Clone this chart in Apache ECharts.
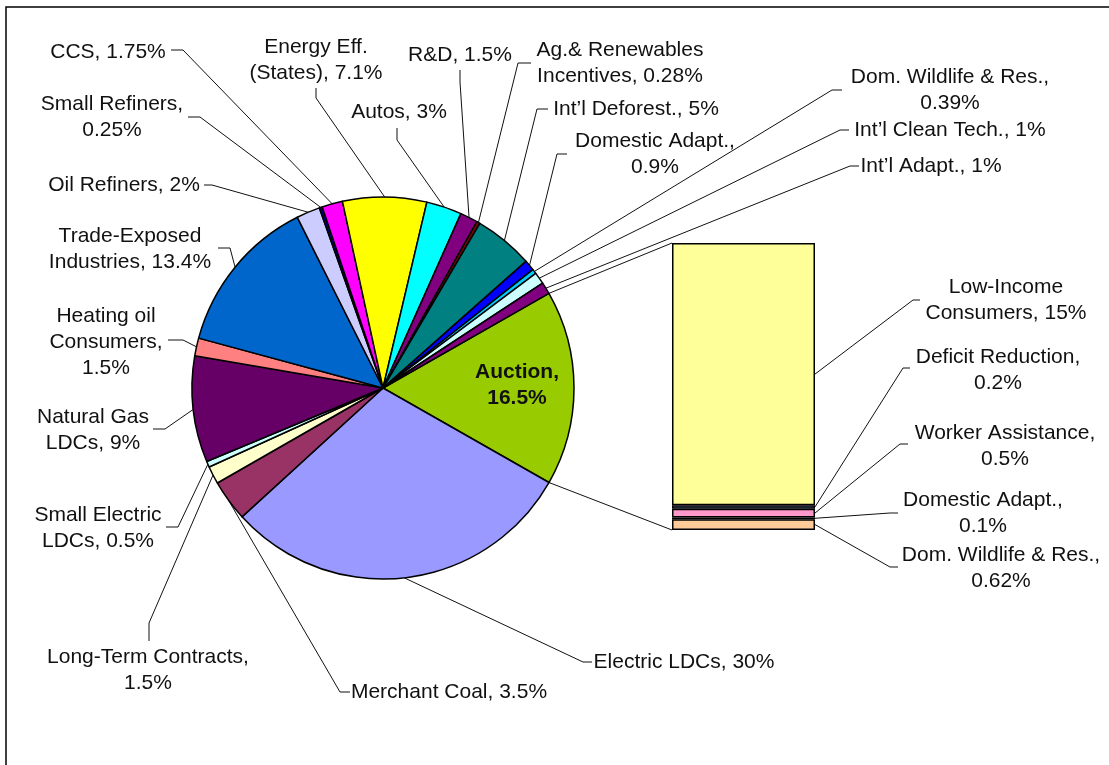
<!DOCTYPE html>
<html>
<head>
<meta charset="utf-8">
<script src="https://cdn.jsdelivr.net/npm/echarts@6/dist/echarts.min.js"></script>
<style>
html,body{margin:0;padding:0;background:#fff;}
#main{width:1109px;height:765px;}
</style>
</head>
<body>
<div id="main"></div>
<script>
// ---- DATA ----
const pieNames = ['Auction', 'Electric LDCs', 'Merchant Coal', 'Long-Term Contracts', 'Small Electric\nLDCs',
  'Natural Gas\nLDCs', 'Heating oil\nConsumers', 'Trade-Exposed\nIndustries', 'Oil Refiners', 'Small Refiners',
  'CCS', 'Energy Eff.\n(States)', 'Autos', 'R&D', 'Ag.& Renewables\nIncentives', 'Int\u2019l Deforest.',
  'Domestic Adapt.', 'Dom. Wildlife & Res.', 'Int\u2019l Clean Tech.', 'Int\u2019l Adapt.'];
const pieValues = [16.5, 30, 3.5, 1.5, 0.5, 9, 1.5, 13.4, 2, 0.25, 1.75, 7.1, 3, 1.5, 0.28, 5, 0.9, 0.39, 1, 1];
const pieWrapValue = ['Auction', 'Long-Term Contracts', 'Heating oil\nConsumers', 'Small Refiners', 'Domestic Adapt.', 'Dom. Wildlife & Res.'];

const barNames = ['Dom. Wildlife & Res.', 'Domestic Adapt.', 'Worker Assistance', 'Deficit Reduction', 'Low-Income\nConsumers'];
const barValues = [0.62, 0.1, 0.5, 0.2, 15];
const barWrapValue = ['Dom. Wildlife & Res.', 'Domestic Adapt.', 'Worker Assistance', 'Deficit Reduction'];

// ---- STYLE / LAYOUT ----
const pieColors = ['#99CC00', '#9999FF', '#993366', '#FFFFCC', '#CCFFFF', '#660066', '#FF8080', '#0066CC',
  '#CCCCFF', '#000080', '#FF00FF', '#FFFF00', '#00FFFF', '#800080', '#800000', '#008080', '#0000FF',
  '#00CCFF', '#CCFFFF', '#800080'];
const barColors = ['#FFCC99', '#CC99FF', '#FF99CC', '#6688BB', '#FFFF99'];
const FONT = '"Liberation Sans", Arial, sans-serif';
const FS = 21, LH = 26;
const PIE_C = [383, 388], PIE_R = 191, START = 29.7;
const GRID = {left: 672, top: 243, width: 143, height: 287};

const pieLabelPos = [
  {x: 517, y: 385},
  {x: 684, y: 662, line: [[583, 662], [592, 662]]},
  {x: 449, y: 692, line: [[340, 692], [350, 692]]},
  {x: 148, y: 670, line: [[149, 623], [149, 641]]},
  {x: 98, y: 528, line: [[178, 527], [166, 527]]},
  {x: 93, y: 430, line: [[165, 429], [153, 429]]},
  {x: 106, y: 342, line: [[183, 340], [168, 340]]},
  {x: 130, y: 249, line: [[230, 248], [218, 248]]},
  {x: 124, y: 185, line: [[212, 185], [204, 185]]},
  {x: 112, y: 117, line: [[200, 117], [188, 117]]},
  {x: 108, y: 52, line: [[183, 50], [171, 50]]},
  {x: 316, y: 60, line: [[316, 98], [316, 88]]},
  {x: 399, y: 112, line: [[397, 140], [397, 128]]},
  {x: 460, y: 55, line: [[460, 82], [460, 70]]},
  {x: 620, y: 63, line: [[518, 63], [531, 63]]},
  {x: 636, y: 109, line: [[537, 109], [548, 109]]},
  {x: 655, y: 154, line: [[557, 154], [567, 154]]},
  {x: 950, y: 90, line: [[832, 90], [842, 90]]},
  {x: 950, y: 130, line: [[840, 130], [849, 130]]},
  {x: 931, y: 166, line: [[850, 166], [859, 166]]}
];
const barLabelPos = [
  {x: 1001, y: 568, line: [[890, 567], [898, 567]]},
  {x: 983, y: 513, line: [[890, 513], [898, 513]]},
  {x: 1005, y: 446, line: [[900, 444], [908, 444]]},
  {x: 998, y: 370, line: [[903, 368], [910, 368]]},
  {x: 1006, y: 300, line: [[913, 300], [920, 300]]}
];

function fmt(name, value, wrapList) {
  return name + ',' + (wrapList.indexOf(name) >= 0 ? '\n' : ' ') + value + '%';
}

const chart = echarts.init(document.getElementById('main'), null, {renderer: 'canvas'});

const pieData = pieNames.map(function (n, i) {
  const d = {name: n, value: pieValues[i], itemStyle: {color: pieColors[i]}};
  if (i === 0) {
    d.label = {position: 'inside', fontWeight: 'bold'};
    d.labelLine = {show: false};
  }
  return d;
});

const total = pieValues.reduce(function (a, b) { return a + b; }, 0);
function arcPoint(angleDeg) {
  const a = angleDeg * Math.PI / 180;
  return [PIE_C[0] + PIE_R * Math.cos(a), PIE_C[1] - PIE_R * Math.sin(a)];
}
function midAngle(i) {
  let cum = 0;
  for (let k = 0; k < i; k++) cum += pieValues[k];
  return START - (cum + pieValues[i] / 2) / total * 360;
}

const barSum = barValues.reduce(function (a, b) { return a + b; }, 0);

const series = [{
  type: 'pie',
  center: PIE_C,
  radius: PIE_R,
  startAngle: START,
  clockwise: true,
  avoidLabelOverlap: false,
  animation: false,
  data: pieData,
  itemStyle: {borderColor: '#000', borderWidth: 1.5},
  label: {
    show: true, position: 'outside', alignTo: 'none',
    fontSize: FS, lineHeight: LH, fontFamily: FONT, color: '#111',
    formatter: function (p) { return fmt(p.name, p.value, pieWrapValue); }
  },
  labelLine: {show: true, length: 5, length2: 5, lineStyle: {color: '#111', width: 1}},
  labelLayout: function (params) {
    const L = pieLabelPos[params.dataIndex];
    const res = {x: L.x, y: L.y, align: 'center', verticalAlign: 'middle'};
    if (L.line) {
      const p0 = arcPoint(midAngle(params.dataIndex));
      res.labelLinePoints = [p0, L.line[0], L.line[1]];
    }
    return res;
  },
  emphasis: {disabled: true}
}];

barNames.forEach(function (n, i) {
  series.push({
    type: 'bar',
    name: n,
    stack: 'other',
    barWidth: '100%',
    xAxisIndex: 0, yAxisIndex: 0,
    animation: false,
    data: [barValues[i]],
    itemStyle: {color: barColors[i], borderColor: '#000', borderWidth: 1.5},
    emphasis: {disabled: true}
  });
});

chart.setOption({
  backgroundColor: '#fff',
  animation: false,
  grid: {left: GRID.left, top: GRID.top, width: GRID.width, height: GRID.height, containLabel: false},
  xAxis: {type: 'category', data: ['Auction'], show: false, boundaryGap: true},
  yAxis: {type: 'value', min: 0, max: barSum, show: false, splitLine: {show: false}},
  series: series
});

// Leader lines & labels of the bar, connector lines, frame
const graphics = [];
graphics.push({type: 'rect', shape: {x: 6, y: 7, width: 1300, height: 900},
  style: {fill: 'none', stroke: '#000', lineWidth: 1.5}, silent: true, z: -1});
let cum = 0;
const barRight = GRID.left + GRID.width;
barValues.forEach(function (v, i) {
  const mid = chart.convertToPixel({xAxisIndex: 0, yAxisIndex: 0}, [0, cum + v / 2]);
  cum += v;
  const L = barLabelPos[i];
  graphics.push({type: 'polyline', silent: true,
    shape: {points: [[barRight, mid[1]], L.line[0], L.line[1]]},
    style: {stroke: '#111', lineWidth: 1, fill: null}});
  graphics.push({type: 'text', silent: true, x: L.x, y: L.y,
    style: {text: fmt(barNames[i], v, barWrapValue), align: 'center', verticalAlign: 'middle',
      fontSize: FS, lineHeight: LH, fontFamily: FONT, fill: '#111'}});
});
// connector lines between pie "Auction" slice and the bar
const barTop = chart.convertToPixel({xAxisIndex: 0, yAxisIndex: 0}, [0, barSum]);
const barBottom = chart.convertToPixel({xAxisIndex: 0, yAxisIndex: 0}, [0, 0]);
const aStart = arcPoint(START);
const aEnd = arcPoint(START - pieValues[0] / total * 360);
graphics.push({type: 'line', silent: true, shape: {x1: aStart[0], y1: aStart[1], x2: GRID.left, y2: barTop[1]},
  style: {stroke: '#111', lineWidth: 1}});
graphics.push({type: 'line', silent: true, shape: {x1: aEnd[0], y1: aEnd[1], x2: GRID.left, y2: barBottom[1]},
  style: {stroke: '#111', lineWidth: 1}});

chart.setOption({graphic: graphics});
</script>
</body>
</html>
